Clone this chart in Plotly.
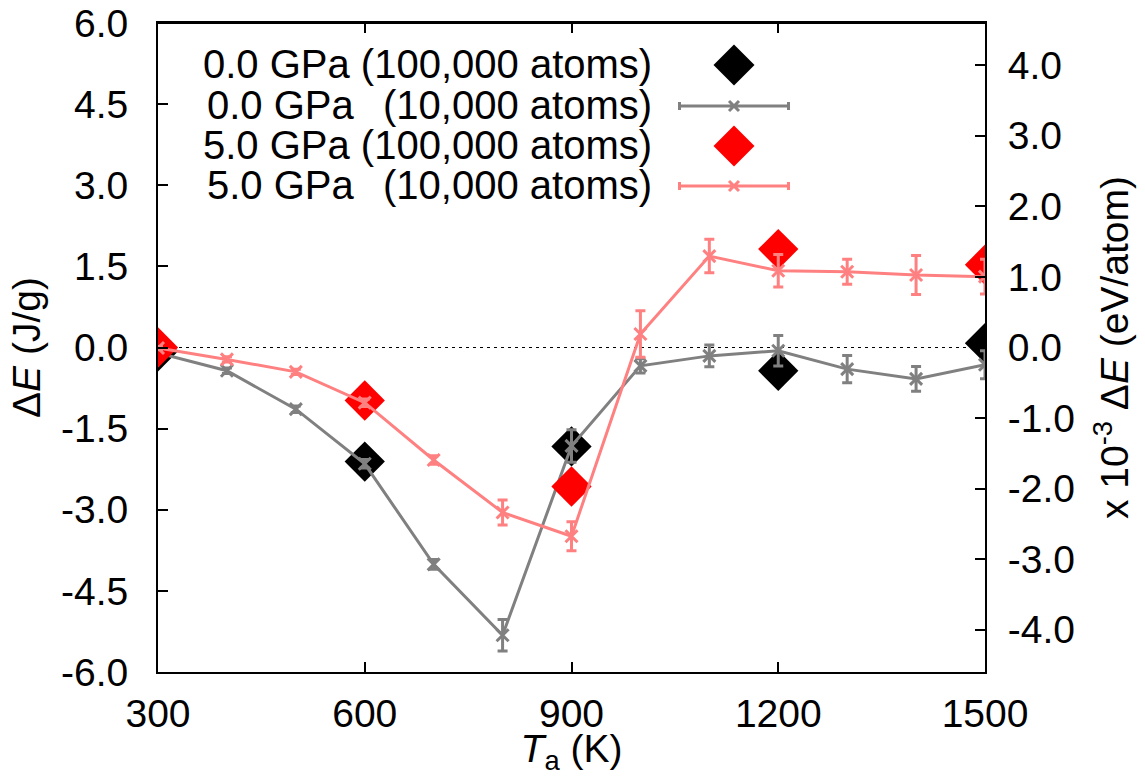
import plotly.graph_objects as go

# ---------------- data ----------------
T_10k = [300, 400, 500, 600, 700, 800, 900, 1000, 1100, 1200, 1300, 1400, 1500]
dE_0GPa_10k = [-0.10, -0.43, -1.14, -2.15, -4.01, -5.32, -1.82, -0.34, -0.155, -0.06, -0.40, -0.58, -0.32]
err_0GPa_10k = [0.03, 0.05, 0.06, 0.08, 0.09, 0.29, 0.30, 0.13, 0.20, 0.28, 0.25, 0.23, 0.26]
dE_5GPa_10k = [-0.01, -0.22, -0.45, -1.02, -2.08, -3.05, -3.49, 0.25, 1.69, 1.42, 1.40, 1.34, 1.31]
err_5GPa_10k = [0.03, 0.05, 0.05, 0.07, 0.08, 0.23, 0.27, 0.43, 0.31, 0.30, 0.23, 0.36, 0.32]

T_100k = [300, 600, 900, 1200, 1500]
dE_0GPa_100k = [-0.07, -2.11, -1.83, -0.43, 0.08]
dE_5GPa_100k = [0.0, -0.98, -2.57, 1.82, 1.53]

x_ticks = [300, 600, 900, 1200, 1500]
y_ticks = [-6.0, -4.5, -3.0, -1.5, 0.0, 1.5, 3.0, 4.5, 6.0]
y2_ticks = [-4.0, -3.0, -2.0, -1.0, 0.0, 1.0, 2.0, 3.0, 4.0]
JG_PER_MEV_ATOM = 1.305  # J/g per 1e-3 eV/atom (right axis scale)

legend_left = ["0.0 GPa", "0.0 GPa", "5.0 GPa", "5.0 GPa"]
legend_right = ["(100,000 atoms)", "(10,000 atoms)", "(100,000 atoms)", "(10,000 atoms)"]

# ---------------- style ----------------
FONT = "Liberation Sans, Arial, Helvetica, sans-serif"
FS = 39
FS_LEG = 40
GRAY = "#808080"
SALMON = "#ff8080"
RED = "#ff0000"
BLACK = "#000000"
LW = 3

fig = go.Figure()

# black diamonds
fig.add_trace(go.Scatter(
    x=T_100k, y=dE_0GPa_100k, mode="markers",
    marker=dict(symbol="diamond", size=31, color=BLACK, line=dict(width=0)),
    showlegend=False, hoverinfo="skip"))

# gray line 0 GPa 10k
fig.add_trace(go.Scatter(
    x=T_10k, y=dE_0GPa_10k, mode="lines+markers",
    line=dict(color=GRAY, width=LW),
    marker=dict(symbol="x-thin", size=12, color=GRAY, line=dict(width=LW, color=GRAY)),
    error_y=dict(type="data", array=err_0GPa_10k, color=GRAY, thickness=LW, width=5),
    showlegend=False, hoverinfo="skip"))

# red diamonds
fig.add_trace(go.Scatter(
    x=T_100k, y=dE_5GPa_100k, mode="markers",
    marker=dict(symbol="diamond", size=31, color=RED, line=dict(width=0)),
    showlegend=False, hoverinfo="skip"))

# salmon line 5 GPa 10k
fig.add_trace(go.Scatter(
    x=T_10k, y=dE_5GPa_10k, mode="lines+markers",
    line=dict(color=SALMON, width=LW),
    marker=dict(symbol="x-thin", size=12, color=SALMON, line=dict(width=LW, color=SALMON)),
    error_y=dict(type="data", array=err_5GPa_10k, color=SALMON, thickness=LW, width=5),
    showlegend=False, hoverinfo="skip"))

# invisible trace on right axis (eV/atom units) so that the axis is drawn
fig.add_trace(go.Scatter(
    x=T_100k, y=[v / JG_PER_MEV_ATOM for v in dE_0GPa_100k], yaxis="y2",
    mode="markers", marker=dict(opacity=0), showlegend=False, hoverinfo="skip"))

# ---------------- layout geometry ----------------
W, H = 1145, 776
L, Tp, R, B = 158, 23, 160, 104
pw, ph = W - L - R, H - Tp - B


def px2paper_x(px):
    return (px - L) / pw


def px2paper_y(py):
    return (H - B - py) / ph


row_y = [65, 106, 146, 186]
sym_x = 734
txt_left = 205
txt_right = 654
annotations = []
shapes = []
kinds = [("diamond", BLACK), ("bar", GRAY), ("diamond", RED), ("bar", SALMON)]
for i in range(4):
    yp = px2paper_y(row_y[i] - 1)
    kind, col = kinds[i]
    if kind == "diamond":
        # single line of text, right-aligned against the sample
        annotations.append(dict(
            x=px2paper_x(txt_right), y=yp, xref="paper", yref="paper",
            text=legend_left[i] + " " + legend_right[i], showarrow=False,
            xanchor="right", yanchor="middle",
            font=dict(family=FONT, size=FS_LEG, color="black")))
        shapes.append(dict(
            type="path", xref="paper", yref="paper", xsizemode="pixel", ysizemode="pixel",
            xanchor=px2paper_x(sym_x), yanchor=px2paper_y(row_y[i]),
            path="M0,20.5 L20.5,0 L0,-20.5 L-20.5,0 Z",
            fillcolor=col, line=dict(width=0), layer="above"))
    else:
        annotations.append(dict(
            x=px2paper_x(txt_left), y=yp, xref="paper", yref="paper",
            text=legend_left[i], showarrow=False, xanchor="left", yanchor="middle",
            font=dict(family=FONT, size=FS_LEG, color="black")))
        annotations.append(dict(
            x=px2paper_x(txt_right), y=yp, xref="paper", yref="paper",
            text=legend_right[i], showarrow=False, xanchor="right", yanchor="middle",
            font=dict(family=FONT, size=FS_LEG, color="black")))
        shapes.append(dict(
            type="path", xref="paper", yref="paper", xsizemode="pixel", ysizemode="pixel",
            xanchor=px2paper_x(sym_x), yanchor=px2paper_y(row_y[i]),
            path="M-54.5,0 L54.5,0 M-54.5,-4 L-54.5,4 M54.5,-4 L54.5,4 M-5,-5 L5,5 M-5,5 L5,-5",
            line=dict(color=col, width=LW), layer="above"))

# zero dashed line
shapes.append(dict(type="line", xref="paper", x0=0, x1=1, yref="y", y0=0, y1=0,
                   line=dict(color="black", width=1, dash="3px,4px"), layer="below"))
# plot frame top edge (explicit)
shapes.append(dict(type="line", xref="paper", yref="paper", x0=0, x1=1, y0=1, y1=1,
                   line=dict(color="black", width=2), layer="above"))

axis_common = dict(
    showgrid=False, zeroline=False, showline=True, linecolor="black", linewidth=2,
    ticks="inside", ticklen=10, tickwidth=1.5, tickcolor="black", automargin=False,
    ticklabeloverflow="allow",
    tickfont=dict(family=FONT, size=FS, color="black"),
)

fig.update_layout(
    width=W, height=H,
    margin=dict(l=L, r=R, t=Tp, b=B),
    paper_bgcolor="white", plot_bgcolor="white",
    font=dict(family=FONT, size=FS, color="black"),
    showlegend=False,
    xaxis=dict(
        **axis_common, range=[300, 1500], tickvals=x_ticks,
        ticktext=[str(v) for v in x_ticks], mirror="ticks",
        ticklabelstandoff=6,
        title=dict(text="<i>T</i><sub>a</sub> (K)", standoff=0,
                   font=dict(family=FONT, size=FS, color="black")),
    ),
    yaxis=dict(
        **axis_common, range=[-6, 6], tickvals=y_ticks,
        ticktext=[f"{v:.1f}" for v in y_ticks], mirror=False,
        ticklabelstandoff=20,
        title=dict(text="Δ<i>E</i> (J/g)", standoff=8,
                   font=dict(family=FONT, size=FS, color="black")),
    ),
    yaxis2=dict(
        **axis_common, overlaying="y", side="right",
        range=[-6 / JG_PER_MEV_ATOM, 6 / JG_PER_MEV_ATOM], tickvals=y2_ticks,
        ticktext=[f"{v:.1f}" for v in y2_ticks],
        ticklabelstandoff=13,
        title=dict(text="x 10<sup>-3</sup> Δ<i>E</i> (eV/atom)", standoff=27,
                   font=dict(family=FONT, size=FS, color="black")),
    ),
    annotations=annotations,
    shapes=shapes,
)

fig.write_html(
    "out.html",
    config={"displayModeBar": False},
    post_script="document.body.style.margin='0';document.body.style.overflow='hidden';",
)
